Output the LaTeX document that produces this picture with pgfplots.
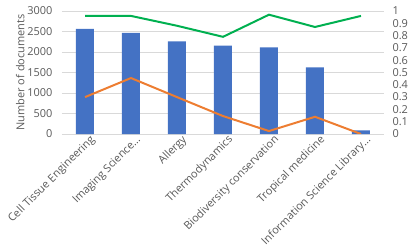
\documentclass[border=0pt]{standalone}
\usepackage{fontspec}
\setmainfont{Open Sans}
\usepackage{pgfplots}
\pgfplotsset{compat=1.18}
\definecolor{barblue}{HTML}{4472C4}
\definecolor{lorange}{HTML}{ED7D31}
\definecolor{lgreen}{HTML}{00B050}
\definecolor{gridgray}{HTML}{D9D9D9}
\definecolor{textgray}{HTML}{595959}
\begin{document}
\begin{tikzpicture}
\pgfplotsset{
  common/.style={
    scale only axis, width=322bp, height=123bp,
    xmin=-0.5, xmax=6.5,
    major tick length=0,
    axis line style={draw=none},
    /pgf/number format/assume math mode=true,
    tick label style={font=\fontsize{11}{12}\selectfont, text=textgray},
    label style={font=\fontsize{11}{12}\selectfont, text=textgray},
  }
}
\begin{axis}[common,
  ymin=0, ymax=3000, ytick={0,500,1000,1500,2000,2500,3000},
  scaled y ticks=false,
  yticklabel style={/pgf/number format/1000 sep={}, xshift=-6bp},
  ymajorgrids, grid style={draw=gridgray, line width=0.7pt},
  xtick={0,1,2,3,4,5,6},
  xticklabels={Cell Tissue Engineering, Imaging Science\ldots, Allergy, Thermodynamics, Biodiversity conservation, Tropical medicine, Information Science Library\ldots},
  xticklabel style={rotate=45, anchor=north east, inner sep=1pt, xshift=4bp, yshift=-2bp},
  ylabel={Number of documents},
  ylabel style={at={(axis description cs:-0.13,0.5)}, anchor=center},
]
\addplot[ybar, bar width=18bp, fill=barblue, draw=none] coordinates {
(0,2565) (1,2465) (2,2262) (3,2155) (4,2115) (5,1627) (6,90)};
\end{axis}
\begin{axis}[common,
  axis y line*=right, axis x line=none,
  ymin=0, ymax=1,
  ytick={0,0.1,0.2,0.3,0.4,0.5,0.6,0.7,0.8,0.9,1},
  yticklabels={0,0.1,0.2,0.3,0.4,0.5,0.6,0.7,0.8,0.9,1},
  yticklabel style={anchor=west, xshift=5bp},
]
\addplot[lorange, line width=2pt, no markers] coordinates {
(0,0.30) (1,0.455) (2,0.30) (3,0.146) (4,0.024) (5,0.14) (6,0.0)};
\addplot[lgreen, line width=2pt, no markers] coordinates {
(0,0.96) (1,0.96) (2,0.88) (3,0.79) (4,0.97) (5,0.87) (6,0.96)};
\end{axis}
\pgfresetboundingbox
\path[use as bounding box] (-62bp,-115bp) rectangle (353bp,134bp);
\end{tikzpicture}
\end{document}
